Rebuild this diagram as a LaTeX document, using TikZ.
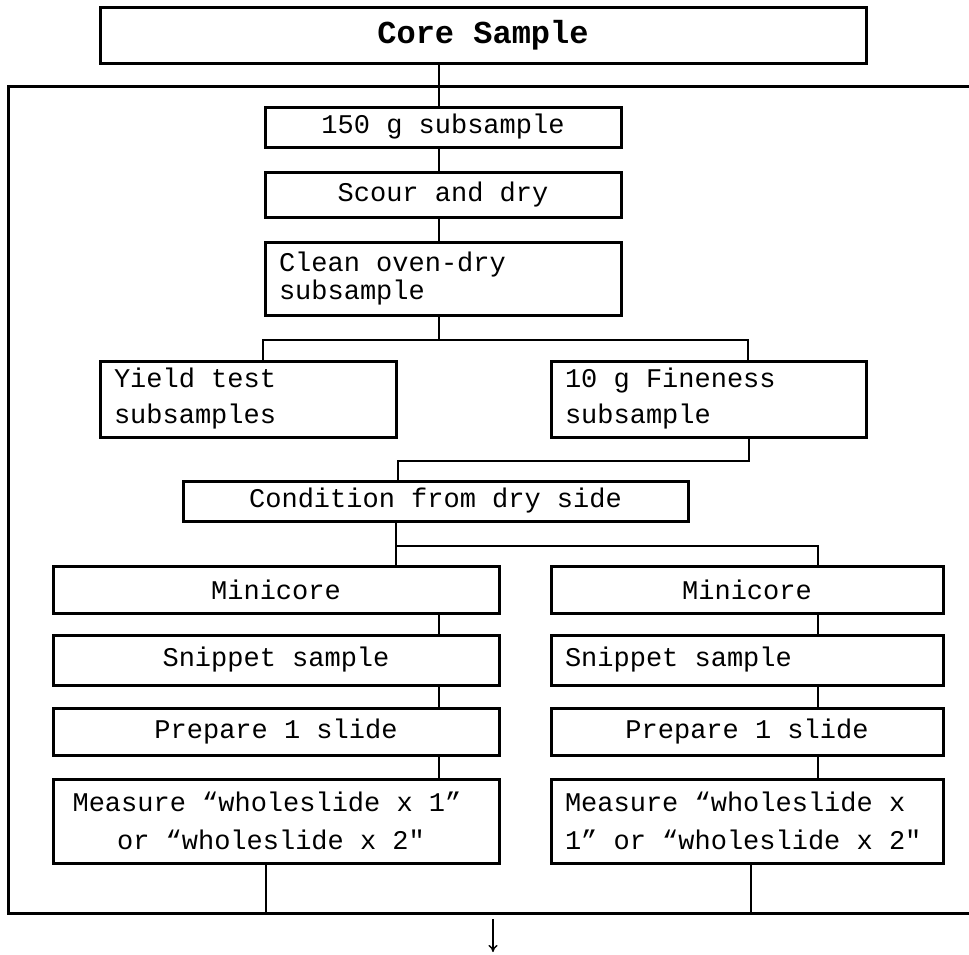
\documentclass[tikz,border=0pt]{standalone}
\usepackage{fontspec}
\setmonofont{Liberation Mono}
\usetikzlibrary{arrows.meta}

% left-aligned block of lines that keeps the typewriter spacing
\newcommand{\leftlines}[2]{\parbox{#1}{\raggedright #2}}

\tikzset{
  box/.style={draw, line width=3pt, inner sep=0pt, outer sep=0pt,
    font=\ttfamily\fontsize{27}{30}\selectfont, align=center},
  wire/.style={line width=2pt},
  frame/.style={line width=3pt}
}

\begin{document}
\begin{tikzpicture}[x=1pt, y=-1pt]
\useasboundingbox (0,0) rectangle (969,954);

% top-level sample
\node[box, minimum width=766, minimum height=56,
      font=\ttfamily\bfseries\fontsize{32}{36}\selectfont] (core) at (483,35) {\raisebox{-4pt}{Core Sample}};

% preparation chain
\node[box, minimum width=356, minimum height=40] (n150) at (443,127) {150 g subsample};
\node[box, minimum width=356, minimum height=45] (scour) at (443,194.5) {Scour and dry};
\node[box, minimum width=356, minimum height=73,
      font=\ttfamily\fontsize{27}{28}\selectfont] (clean) at (443,278.5)
      {\leftlines{328pt}{Clean oven-dry\\subsample}};

\node[box, minimum width=296, minimum height=76,
      font=\ttfamily\fontsize{27}{36}\selectfont] (yield) at (248,399)
      {\leftlines{268pt}{Yield test\\subsamples}};
\node[box, minimum width=315, minimum height=76,
      font=\ttfamily\fontsize{27}{36}\selectfont] (fine) at (708.5,399)
      {\leftlines{287pt}{10 g Fineness\\subsample}};

\node[box, minimum width=505, minimum height=40] (cond) at (435.5,501) {Condition from dry side};

% two measurement columns
\node[box, minimum width=446, minimum height=47] (minL) at (276,589.5) {Minicore};
\node[box, minimum width=392, minimum height=47] (minR) at (747,589.5) {Minicore};

\node[box, minimum width=446, minimum height=50] (snipL) at (276,660) {Snippet sample};
\node[box, minimum width=392, minimum height=50] (snipR) at (747,660)
      {\leftlines{364pt}{Snippet sample}};

\node[box, minimum width=446, minimum height=84,
      font=\ttfamily\fontsize{27}{38}\selectfont] (measL) at (276,821)
      {Measure “wholeslide x 1”\rule{18pt}{0pt}\\or “wholeslide x 2"\rule{10pt}{0pt}};
\node[box, minimum width=392, minimum height=84,
      font=\ttfamily\fontsize{27}{38}\selectfont] (measR) at (747,821)
      {\leftlines{364pt}{Measure “wholeslide x\\1” or “wholeslide x 2"}};

\node[box, minimum width=446, minimum height=47] (prepL) at (276,731.5) {Prepare 1 slide};
\node[box, minimum width=392, minimum height=47] (prepR) at (747,731.5) {Prepare 1 slide};

% routing points
\coordinate (trunk) at (439,0);
\coordinate (brY) at (263,340);
\coordinate (brF) at (748,340);
\coordinate (fdrop) at (749,461);
\coordinate (cin) at (398,461);
\coordinate (mj) at (396,546);
\coordinate (mr) at (818,546);
\coordinate (colL) at (439,0);
\coordinate (colR) at (818,0);
\coordinate (outL) at (266,913);
\coordinate (outR) at (751,913);
\coordinate (aS) at (493,919);
\coordinate (aE) at (493,952);

% enclosing frame, open on the right
\draw[frame] (980,86) -- (8,86) -- (8,913) -- (980,913);

% connectors
\draw[wire] (core.south -| trunk) -- (n150.north -| trunk);
\draw[wire] (n150.south -| trunk) -- (scour.north -| trunk);
\draw[wire] (scour.south -| trunk) -- (clean.north -| trunk);
\draw[wire] (clean.south -| trunk) -- (trunk |- brY);
\draw[wire] (yield.north -| brY) -- (brY) -- (brF) -- (fine.north -| brF);
\draw[wire] (fine.south -| fdrop) -- (fdrop) -- (cin) -- (cond.north -| cin);
\draw[wire] (cond.south -| mj) -- (minL.north -| mj);
\draw[wire] (mj) -- (mr) -- (minR.north -| mr);

\draw[wire] (minL.south -| colL) -- (snipL.north -| colL);
\draw[wire] (snipL.south -| colL) -- (prepL.north -| colL);
\draw[wire] (prepL.south -| colL) -- (measL.north -| colL);
\draw[wire] (minR.south -| colR) -- (snipR.north -| colR);
\draw[wire] (snipR.south -| colR) -- (prepR.north -| colR);
\draw[wire] (prepR.south -| colR) -- (measR.north -| colR);

\draw[wire] (measL.south -| outL) -- (outL);
\draw[wire] (measR.south -| outR) -- (outR);

% outgoing arrow
\draw[line width=1.4pt, -{To[length=7pt, width=9pt]}] (aS) -- (aE);
\end{tikzpicture}
\end{document}
